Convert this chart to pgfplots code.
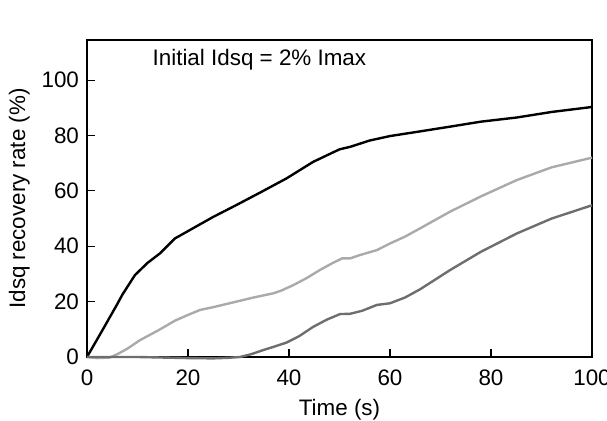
\documentclass[border=0pt]{standalone}
\usepackage{pgfplots}
\pgfplotsset{compat=1.18}
\usepackage{fontspec}
\setmainfont{Liberation Sans}
\definecolor{lgray}{RGB}{170,170,170}
\definecolor{dgray}{RGB}{110,110,110}
\begin{document}
\begin{tikzpicture}
\path[use as bounding box] (-43.5pt,-32pt) rectangle (260pt,178.5pt);
\begin{axis}[
  at={(0,0)}, anchor=south west,
  scale only axis, width=252.5pt, height=158.5pt,
  xmin=0, xmax=100, ymin=0, ymax=114.5,
  xtick={0,20,...,100}, ytick={0,20,...,100},
  tick pos=left, tick align=inside,
  major tick length=4pt,
  axis line style={line width=1.2pt},
  major tick style={line width=0.6pt, black},
  /pgf/number format/assume math mode=true,
  tick label style={font=\fontsize{11.2}{13}\selectfont},
  label style={font=\fontsize{11.2}{13}\selectfont},
  xticklabel style={yshift=-3pt},
  yticklabel style={xshift=-0.5pt},
  xlabel={Time (s)}, ylabel={Idsq recovery rate (\%)},
  xlabel style={yshift=0pt},
  ylabel style={yshift=-1pt},
  clip=false,
]
\addplot[black, line width=1.2pt] coordinates {
(0,0) (3,9.5) (5.9,18.8) (7,22.5) (9.5,29.6) (12,34) (14.5,37.5) (17.4,42.8) (21,46.5)
(25,50.6) (29.6,54.9) (34.5,59.6) (39.5,64.5) (44.8,70.5) (50,75) (52.1,75.9) (56,78.2)
(60,79.8) (66,81.5) (71.9,83.2) (78,85) (85.1,86.5) (92,88.5) (100,90.3)};
\addplot[lgray, line width=1.2pt] coordinates {
(0,0) (2,-0.4) (4.5,-0.2) (6,1) (8,3) (10.5,6.1) (14,9.5) (17.4,13.1) (20,15.2) (22.4,17)
(25,18) (29.6,20) (33,21.5) (36.9,23) (38.5,24) (40.9,26) (43.5,28.5) (46.1,31.4) (48.5,33.8) (50.5,35.6)
(52.1,35.6) (54,36.8) (57.4,38.6) (60,41) (63,43.5) (66,46.5) (71.9,52.5) (78,58)
(85.1,63.9) (92,68.5) (100,72)};
\addplot[dgray, line width=1.2pt] coordinates {
(0,0) (10,0) (15,-0.2) (20,-0.4) (25,-0.5) (28,-0.3) (30.3,0) (32.5,1) (34.9,2.5)
(37,3.7) (39.5,5.2) (42,7.5) (44.8,10.9) (47.5,13.5) (50.1,15.5) (52.1,15.6) (54.5,16.7)
(57.4,18.8) (60,19.4) (63,21.5) (66,24.5) (71.9,31.4) (78,38) (85.1,44.6) (92,50) (100,54.8)};
\node[anchor=west, font=\fontsize{11.2}{13}\selectfont] at (axis cs:11.6,107.5) {Initial Idsq = 2\% Imax};
\end{axis}
\end{tikzpicture}
\end{document}
